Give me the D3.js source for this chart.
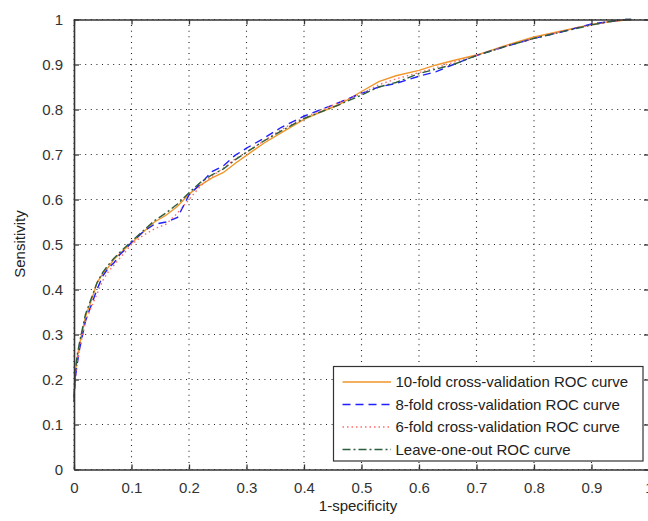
<!DOCTYPE html>
<html>
<head>
<meta charset="utf-8">
<script src="https://cdn.jsdelivr.net/npm/d3@7"></script>
<style>
  body { margin: 0; background: #fff; }
  text { font-family: Arial, "Liberation Sans", sans-serif; }
</style>
</head>
<body>
<script>
// false positive rate grid shared by the four curves
const fpr = [0, 0.002, 0.005, 0.01, 0.015, 0.02, 0.03, 0.04, 0.05, 0.06, 0.07, 0.08, 0.09, 0.1,
  0.12, 0.14, 0.16, 0.18, 0.2, 0.22, 0.24, 0.26, 0.28, 0.3, 0.33, 0.36, 0.4, 0.43, 0.46, 0.5,
  0.53, 0.56, 0.6, 0.63, 0.66, 0.7, 0.75, 0.8, 0.85, 0.9, 0.93, 0.96, 0.97];

const tenFold = [0.16, 0.21, 0.245, 0.28, 0.31, 0.34, 0.375, 0.415, 0.435, 0.45, 0.468, 0.48, 0.492, 0.503,
  0.527, 0.55, 0.565, 0.585, 0.612, 0.632, 0.648, 0.66, 0.68, 0.698, 0.725, 0.748, 0.778, 0.795, 0.81, 0.84,
  0.862, 0.875, 0.887, 0.899, 0.909, 0.921, 0.942, 0.961, 0.975, 0.989, 0.995, 0.999, 1];

const eightFold = [0.15, 0.2, 0.23, 0.27, 0.3, 0.33, 0.365, 0.4, 0.43, 0.448, 0.46, 0.478, 0.49, 0.505,
  0.528, 0.545, 0.55, 0.56, 0.61, 0.635, 0.662, 0.675, 0.698, 0.714, 0.736, 0.76, 0.785, 0.8, 0.815, 0.836,
  0.85, 0.858, 0.874, 0.884, 0.9, 0.92, 0.94, 0.958, 0.973, 0.99, 0.995, 1, 1];

const sixFold = [0.16, 0.2, 0.23, 0.27, 0.3, 0.33, 0.36, 0.39, 0.42, 0.44, 0.455, 0.47, 0.485, 0.5,
  0.52, 0.535, 0.545, 0.57, 0.6, 0.63, 0.652, 0.67, 0.69, 0.705, 0.73, 0.755, 0.782, 0.798, 0.815, 0.835,
  0.855, 0.868, 0.882, 0.893, 0.905, 0.92, 0.94, 0.958, 0.974, 0.988, 0.995, 1, 1];

const leaveOneOut = [0.16, 0.21, 0.25, 0.285, 0.315, 0.345, 0.38, 0.415, 0.438, 0.455, 0.47, 0.483, 0.495, 0.507,
  0.53, 0.553, 0.57, 0.59, 0.615, 0.638, 0.655, 0.668, 0.688, 0.705, 0.73, 0.752, 0.78, 0.795, 0.81, 0.832,
  0.85, 0.86, 0.88, 0.89, 0.9, 0.92, 0.94, 0.958, 0.973, 0.988, 0.995, 1, 1];

const seriesNames = ["10-fold cross-validation ROC curve", "8-fold cross-validation ROC curve",
  "6-fold cross-validation ROC curve", "Leave-one-out ROC curve"];
const tickValues = [0, 0.1, 0.2, 0.3, 0.4, 0.5, 0.6, 0.7, 0.8, 0.9, 1];

const series = [
  {name: seriesNames[0], values: tenFold, color: "#f0962a", dash: null},
  {name: seriesNames[1], values: eightFold, color: "#1f1fff", dash: "8,5"},
  {name: seriesNames[2], values: sixFold, color: "#ff6a6a", dash: "1.5,3"},
  {name: seriesNames[3], values: leaveOneOut, color: "#2d5e3c", dash: "8,3,2,3"}
];

const w = 648, h = 521;
const margin = {top: 19.5, right: -1, bottom: 51.5, left: 74};
const innerW = w - margin.left - margin.right;
const innerH = h - margin.top - margin.bottom;

const svg = d3.select("body").append("svg")
  .attr("width", w)
  .attr("height", h)
  .attr("viewBox", [0, 0, w, h]);

const g = svg.append("g")
  .attr("transform", `translate(${margin.left},${margin.top})`);

const xScale = d3.scaleLinear().domain([0, 1]).range([0, innerW]);
const yScale = d3.scaleLinear().domain([0, 1]).range([innerH, 0]);
const fmt = d => String(+d.toFixed(1));

// dotted grid
g.append("g").selectAll("line").data(tickValues).join("line")
  .attr("x1", d => xScale(d)).attr("x2", d => xScale(d))
  .attr("y1", 0).attr("y2", innerH)
  .attr("stroke", "#222").attr("stroke-width", 1.1).attr("stroke-dasharray", "1,4.6");
g.append("g").selectAll("line").data(tickValues).join("line")
  .attr("y1", d => yScale(d)).attr("y2", d => yScale(d))
  .attr("x1", 0).attr("x2", innerW)
  .attr("stroke", "#222").attr("stroke-width", 1.1).attr("stroke-dasharray", "1,4.6");

// curves
const line = d3.line()
  .x((d, i) => xScale(fpr[i]))
  .y(d => yScale(d));

series.forEach(s => {
  g.append("path")
    .datum(s.values)
    .attr("fill", "none")
    .attr("stroke", s.color)
    .attr("stroke-width", 1.4)
    .attr("stroke-dasharray", s.dash)
    .attr("d", line);
});

// axes with inward ticks on all four sides
const styleAxis = sel => {
  sel.select(".domain").attr("stroke", "#333").attr("stroke-width", 1.6);
  sel.selectAll(".tick line").attr("stroke", "#333").attr("stroke-width", 1.3);
  sel.selectAll("text").attr("fill", "#333").attr("font-size", 15);
};

g.append("g").attr("transform", `translate(0,${innerH})`)
  .call(d3.axisBottom(xScale).tickValues(tickValues).tickFormat(fmt).tickSizeInner(-5).tickSizeOuter(0).tickPadding(13))
  .call(styleAxis);
g.append("g")
  .call(d3.axisLeft(yScale).tickValues(tickValues).tickFormat(fmt).tickSizeInner(-5).tickSizeOuter(0).tickPadding(11))
  .call(styleAxis);
g.append("g")
  .call(d3.axisTop(xScale).tickValues(tickValues).tickFormat("").tickSizeInner(-5).tickSizeOuter(0))
  .call(styleAxis);
g.append("g").attr("transform", `translate(${innerW},0)`)
  .call(d3.axisRight(yScale).tickValues(tickValues).tickFormat("").tickSizeInner(-5).tickSizeOuter(0))
  .call(styleAxis);

// axis labels
svg.append("text")
  .attr("x", 358).attr("y", 510.5)
  .attr("text-anchor", "middle").attr("font-size", 15).attr("fill", "#222")
  .text("1-specificity");
svg.append("text")
  .attr("transform", "translate(25,244) rotate(-90)")
  .attr("text-anchor", "middle").attr("font-size", 15).attr("fill", "#222")
  .text("Sensitivity");

// legend
const legend = svg.append("g").attr("transform", "translate(333.5,366.5)");
legend.append("rect")
  .attr("width", 309.5).attr("height", 94.5)
  .attr("fill", "#fff").attr("stroke", "#333").attr("stroke-width", 1.2);
const rows = legend.selectAll("g.row").data(series).join("g")
  .attr("class", "row")
  .attr("transform", (d, i) => `translate(0,${15.5 + i * 22.5})`);
rows.append("line")
  .attr("x1", 9).attr("x2", 57.5)
  .attr("stroke", d => d.color).attr("stroke-width", 1.4)
  .attr("stroke-dasharray", d => d.dash);
rows.append("text")
  .attr("x", 62).attr("dy", "0.35em")
  .attr("font-size", 15).attr("fill", "#222")
  .text(d => d.name);
</script>
</body>
</html>
